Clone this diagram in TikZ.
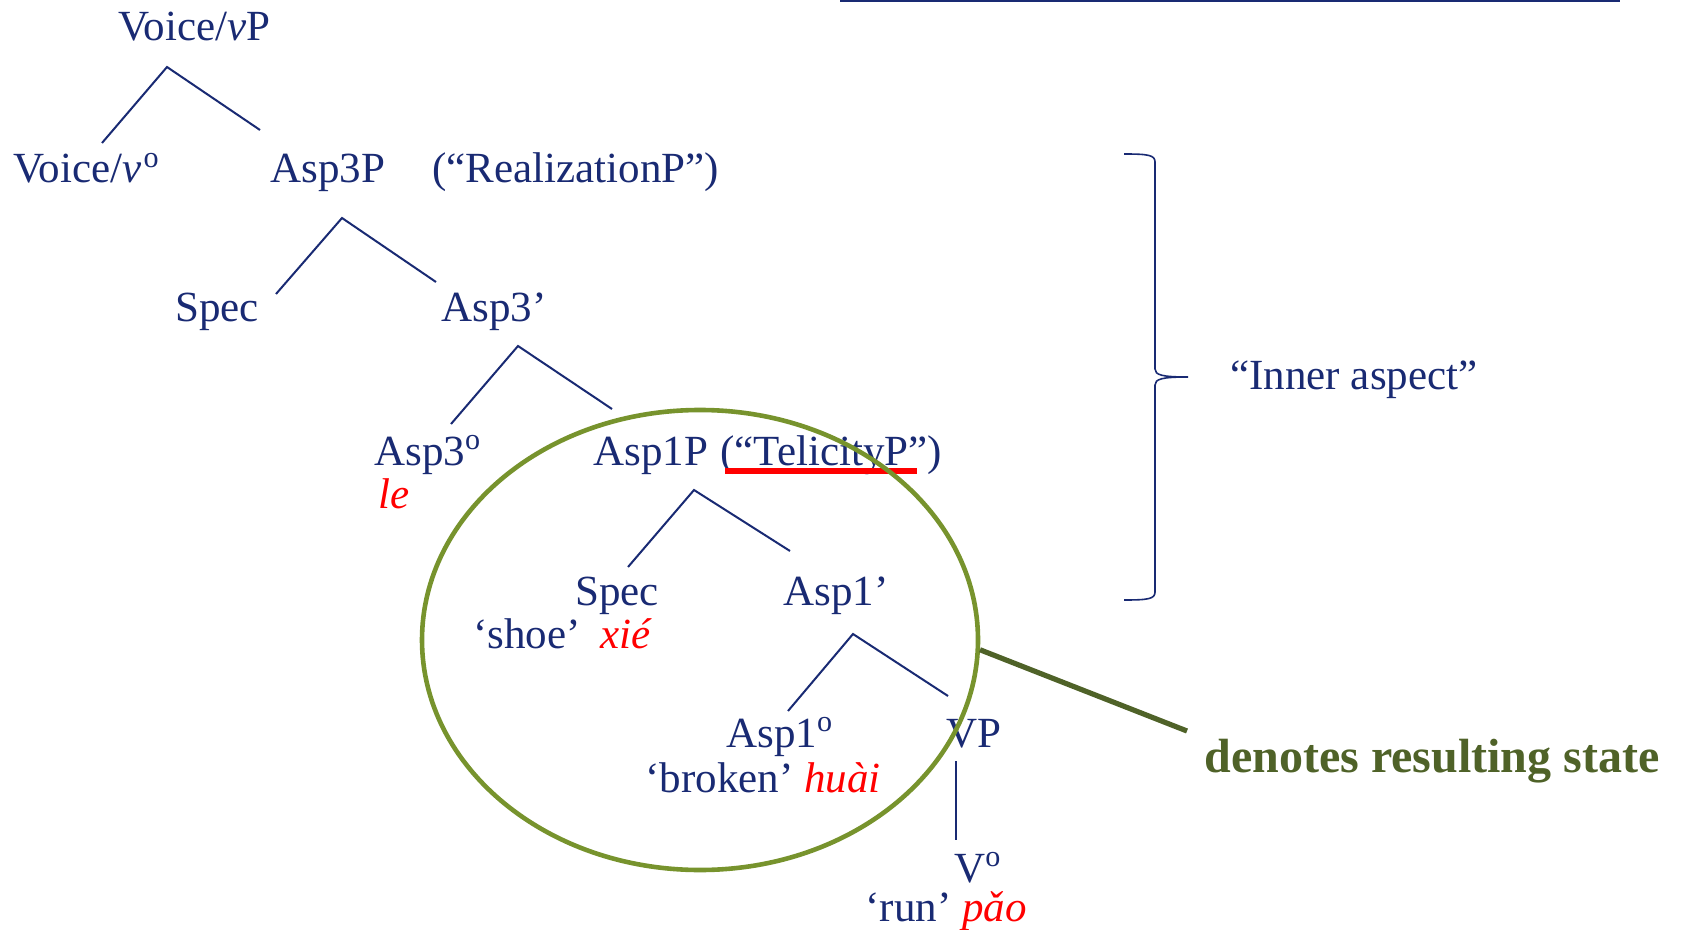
\documentclass[tikz,border=0pt]{standalone}
\usepackage{fontspec}
\setmainfont{Liberation Serif}
\usepackage{xcolor}
\usetikzlibrary{positioning, shapes.geometric}
\definecolor{navy}{RGB}{25,42,115}
\definecolor{olivering}{RGB}{119,147,45}
\definecolor{darkolive}{RGB}{79,98,40}
\newcommand{\zh}[1]{\textcolor{red}{\textit{#1}}}
\newcommand{\hd}{\textsuperscript{o}}

\begin{document}
\begin{tikzpicture}[x=0.5pt,y=-0.5pt,
                lbl/.style={anchor=base west, inner sep=0pt, text=navy,
                  font=\fontsize{21.5}{25}\selectfont},
                branch/.style={draw=navy, line width=1pt},
                ring/.style={draw=olivering, line width=2.3pt}
                ]
  \useasboundingbox (0,0) rectangle (1685,930);
  \draw [navy, line width=1pt] (840,1) -- (1620,1);

  % tree labels
  \node [lbl] (vP) at (118,41) {Voice/\textit{v}P};
  \node [lbl] (voice) at (13,183) {Voice/\textit{v}\kern1pt\hd};
  \node [lbl] (asp3p) at (270,183) {Asp3P};
  \node [lbl] (realiz) at (432,183) {(“RealizationP”)};
  \node [lbl] (spec3) at (175,322) {Spec};
  \node [lbl] (asp3bar) at (441,322) {Asp3’};
  \node [lbl] (asp3h) at (374,465) {Asp3\hd};
  \node [lbl] (le) at (378,508) {\zh{le}};
  \node [lbl] (asp1p) at (593,465) {Asp1P};
  \node [lbl] (telic) at (720,465) {(“TelicityP”)};
  \node [lbl] (spec1) at (575,605) {Spec};
  \node [lbl] (shoe) at (473,648) {‘shoe’\hspace{0.45em}\zh{xié}};
  \node [lbl] (asp1bar) at (783,605) {Asp1’};
  \node [lbl] (asp1h) at (726,747) {Asp1\hd};
  \node [lbl] (broken) at (645,792) {‘broken’ \zh{huài}};
  \node [lbl] (vp) at (946,747) {VP};
  \node [lbl] (vh) at (954,882) {V\hd};
  \node [lbl] (run) at (865,921) {‘run’ \zh{pǎo}};

  % branch points
  \coordinate (t1) at (167,67);  \coordinate (t1l) at (102,143); \coordinate (t1r) at (260,130);
  \coordinate (t2) at (342,218); \coordinate (t2l) at (276,294); \coordinate (t2r) at (436,282);
  \coordinate (t3) at (518,346); \coordinate (t3l) at (451,424); \coordinate (t3r) at (612,409);
  \coordinate (t4) at (694,490); \coordinate (t4l) at (628,567); \coordinate (t4r) at (790,551);
  \coordinate (t5) at (853,634); \coordinate (t5l) at (788,711); \coordinate (t5r) at (948,696);
  \coordinate (t6) at (956,761); \coordinate (t6b) at (956,840);
  \foreach \t in {t1,t2,t3,t4,t5}
    \draw [branch] (\t l) -- (\t) -- (\t r);
  \draw [branch] (t6) -- (t6b);

  \draw [red, line width=2.75pt] (725,471) -- (917,471);

  % the circled part and its note
  \node [ring, ellipse, minimum width=278pt, minimum height=230pt, inner sep=0pt] (circ) at (700,640) {};
  \coordinate (tail) at (1187,731);
  \draw [darkolive, line width=2.6pt] (circ.-2) -- (tail);
  \node [anchor=base west, inner sep=0pt, text=darkolive,
         font=\fontsize{24}{28}\selectfont\bfseries] (note) at (1204,772) {denotes resulting state};

  % brace
  \coordinate (tip) at (1188,377);
  \draw [navy, line width=0.8pt] (1124,154) .. controls (1148,154) and (1155,155) .. (1155,162)
        -- (1155,369) .. controls (1155,375) and (1162,377) .. (tip)
        .. controls (1162,377) and (1155,379) .. (1155,385)
        -- (1155,592) .. controls (1155,599) and (1148,600) .. (1124,600);
  \node [lbl] (inner) at (1230,389) {“Inner aspect”};
\end{tikzpicture}
\end{document}
